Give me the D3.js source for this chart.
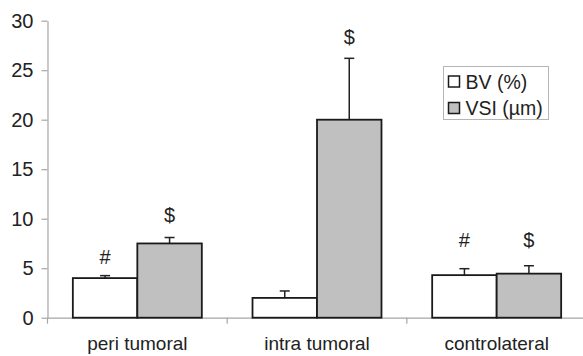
<!DOCTYPE html>
<html><head><meta charset="utf-8">
<script src="https://cdn.jsdelivr.net/npm/d3@7"></script>
<style>body{margin:0;background:#fff}svg{display:block}text{font-family:"Liberation Sans",Arial,sans-serif}</style>
</head><body><svg id="c" width="583" height="356"></svg>
<script>
const categories = ["peri tumoral", "intra tumoral", "controlateral"];
const seriesNames = ["BV (%)", "VSI (µm)"];
const bvValues = [4.0, 2.0, 4.3];
const bvErrors = [0.25, 0.7, 0.65];
const vsiValues = [7.5, 20.0, 4.45];
const vsiErrors = [0.6, 6.2, 0.8];
const bvMarks = ["#", "", "#"];
const vsiMarks = ["$", "$", "$"];
const bvMarkLevel = [6.15, 0, 7.8];
const vsiMarkLevel = [10.4, 28.4, 7.8];
const yTicks = [0, 5, 10, 15, 20, 25, 30];
const colors = ["#ffffff", "#c0c0c0"];

const svg = d3.select("#c");
const y = d3.scaleLinear().domain([0, 30]).range([317.7, 20.7]);
const x0 = d3.scaleBand().domain(categories).range([47.5, 586.5]).paddingInner(0).paddingOuter(0);
const x1 = d3.scaleBand().domain(seriesNames).range([0, x0.bandwidth()]).paddingInner(0).paddingOuter(0.393);
const axisColor = "#a6a6a6";
const fs = 19;

// y axis
const ya = svg.append("g").attr("transform", "translate(47.5,0)")
  .call(d3.axisLeft(y).tickValues(yTicks).tickSize(6).tickSizeOuter(0).tickPadding(8));
ya.select(".domain").attr("stroke", axisColor).attr("stroke-width", 1.2);
ya.selectAll(".tick line").attr("stroke", axisColor).attr("stroke-width", 1.2);
ya.selectAll(".tick text").attr("fill", "#222").style("font-size", "20px").style("font-family", "'Liberation Sans',Arial,sans-serif");

// x axis
const xa = svg.append("g").attr("transform", `translate(0,${y(0)})`)
  .call(d3.axisBottom(x0).tickSize(0).tickPadding(19));
xa.select(".domain").attr("stroke", axisColor).attr("stroke-width", 1.2);
xa.selectAll(".tick text").attr("fill", "#222").style("font-size", fs + "px").style("font-family", "'Liberation Sans',Arial,sans-serif");
const bounds = categories.map(c => x0(c)).concat([x0.range()[1]]);
svg.append("g").selectAll("line").data(bounds).join("line")
  .attr("x1", d => d).attr("x2", d => d).attr("y1", y(0)).attr("y2", y(0) + 6)
  .attr("stroke", axisColor).attr("stroke-width", 1.2);

// data table
const rows = [];
categories.forEach((c, i) => {
  rows.push({c, s: seriesNames[0], v: bvValues[i], e: bvErrors[i], m: bvMarks[i], ml: bvMarkLevel[i], col: colors[0]});
  rows.push({c, s: seriesNames[1], v: vsiValues[i], e: vsiErrors[i], m: vsiMarks[i], ml: vsiMarkLevel[i], col: colors[1]});
});
const bx = d => x0(d.c) + x1(d.s);
const bw = x1.bandwidth();

// error bars
const eg = svg.append("g");
eg.selectAll("line.v").data(rows).join("line")
  .attr("x1", d => bx(d) + bw / 2).attr("x2", d => bx(d) + bw / 2)
  .attr("y1", d => y(d.v)).attr("y2", d => y(d.v + d.e))
  .attr("stroke", "#222").attr("stroke-width", 1.5);
eg.selectAll("line.c").data(rows).join("line")
  .attr("x1", d => bx(d) + bw / 2 - 5).attr("x2", d => bx(d) + bw / 2 + 5)
  .attr("y1", d => y(d.v + d.e)).attr("y2", d => y(d.v + d.e))
  .attr("stroke", "#222").attr("stroke-width", 1.5);

// bars
svg.append("g").selectAll("rect").data(rows).join("rect")
  .attr("x", d => bx(d)).attr("width", bw)
  .attr("y", d => y(d.v)).attr("height", d => y(0) - y(d.v))
  .attr("fill", d => d.col).attr("stroke", "#1a1a1a").attr("stroke-width", 1.8);

// significance marks
svg.append("g").selectAll("text").data(rows.filter(d => d.m)).join("text")
  .attr("x", d => bx(d) + bw / 2).attr("y", d => y(d.ml))
  .attr("dy", "0.35em").attr("text-anchor", "middle")
  .style("font-size", "20px").attr("fill", "#222").text(d => d.m);

// legend
const lg = svg.append("g");
lg.append("rect").attr("x", 443.5).attr("y", 66.5).attr("width", 105).attr("height", 53)
  .attr("fill", "#fff").attr("stroke", "#b5b5b5").attr("stroke-width", 1);
seriesNames.forEach((s, i) => {
  const cy = 81.5 + i * 26.5;
  lg.append("rect").attr("x", 448.5).attr("y", cy - 5.5).attr("width", 11).attr("height", 11)
    .attr("fill", colors[i]).attr("stroke", "#1a1a1a").attr("stroke-width", 1.5);
  lg.append("text").attr("x", 465.5).attr("y", cy).attr("dy", "0.36em")
    .style("font-size", "19.5px").attr("fill", "#222").text(s);
});
</script></body></html>
